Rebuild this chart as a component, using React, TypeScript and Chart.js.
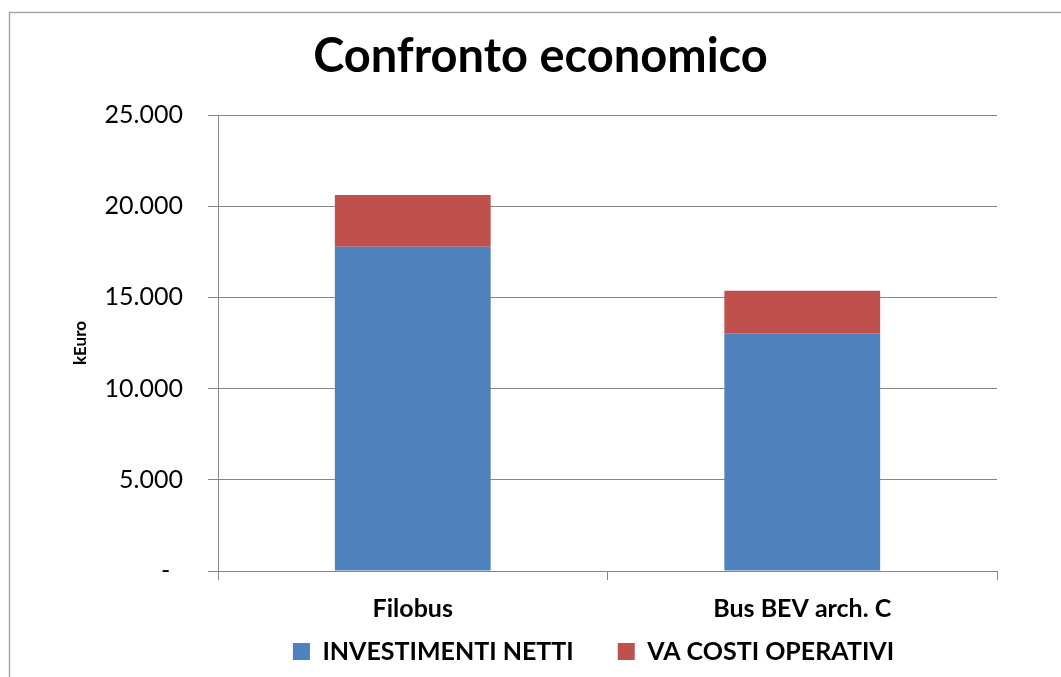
import React, { useEffect, useRef } from "react";
import { Chart, registerables } from "chart.js";

Chart.register(...registerables);

const categories = ["Filobus", "Bus BEV arch. C"];
const investimentiNetti = [17780, 13030];
const vaCostiOperativi = [2835, 2335];
const seriesNames = ["INVESTIMENTI NETTI", "VA COSTI OPERATIVI"];
const yTickLabels = ["-  ", "5.000", "10.000", "15.000", "20.000", "25.000"];
const chartTitle = "Confronto economico";
const yAxisTitle = "kEuro";

const FONT = "Lato, 'Open Sans', sans-serif";

const nudgePlugin = {
  id: "nudge",
  afterLayout(chart: any) {
    const t = chart.titleBlock;
    if (t) {
      const d = 540.5 - (t.left + t.right) / 2;
      t.left += d;
      t.right += d;
    }
    const l = chart.legend;
    if (l) {
      const d = 593.5 - (l.left + l.right) / 2;
      l.left += d;
      l.right += d;
    }
    const x = chart.scales.x;
    if (x) {
      x.bottom = chart.height;
    }
  },
};

const borderPlugin = {
  id: "frameBorder",
  beforeDraw(chart: any) {
    const ctx = chart.ctx;
    ctx.save();
    ctx.strokeStyle = "#a6a6a6";
    ctx.lineWidth = 1.5;
    ctx.beginPath();
    ctx.moveTo(9.5, chart.height);
    ctx.lineTo(9.5, 12.5);
    ctx.lineTo(chart.width, 12.5);
    ctx.stroke();
    ctx.restore();
  },
};

export default function App() {
  const ref = useRef<HTMLCanvasElement | null>(null);

  useEffect(() => {
    if (!ref.current) return;
    const chart = new Chart(ref.current, {
      type: "bar",
      data: {
        labels: categories,
        datasets: [
          {
            label: seriesNames[0],
            data: investimentiNetti,
            backgroundColor: "#4F81BD",
            barPercentage: 0.4,
            categoryPercentage: 1.0,
          },
          {
            label: seriesNames[1],
            data: vaCostiOperativi,
            backgroundColor: "#C0504D",
            barPercentage: 0.4,
            categoryPercentage: 1.0,
          },
        ],
      },
      options: {
        animation: false,
        responsive: true,
        maintainAspectRatio: false,
        layout: { padding: { left: 64, right: 64, top: 0, bottom: 3 } },
        plugins: {
          title: {
            display: true,
            text: chartTitle,
            color: "#000000",
            font: { family: FONT, size: 47, weight: "bold" },
            padding: { top: 28.5, bottom: 30.1 },
          },
          legend: {
            display: true,
            position: "bottom",
            labels: {
              color: "#000000",
              font: { family: FONT, size: 25, weight: "bold" },
              boxWidth: 17,
              boxHeight: 17,
              padding: 44,
            },
          },
          tooltip: { enabled: false },
        },
        scales: {
          x: {
            stacked: true,
            grid: {
              drawOnChartArea: false,
              drawTicks: true,
              tickLength: 9,
              color: "#868686",
            },
            border: { display: true, color: "#868686" },
            ticks: {
              color: "#000000",
              font: { family: FONT, size: 25, weight: "bold" },
              padding: 14,
              autoSkip: false,
              maxRotation: 0,
            },
            afterFit: (scale: any) => {
              // legend height = 25 (item) + 44 (padding) + 10
              scale.height = 677 - 3 - 79 - 571;
            },
          },
          y: {
            stacked: true,
            min: 0,
            max: 25000,
            grid: {
              color: "#868686",
              tickLength: 10,
            },
            border: { display: true, color: "#868686" },
            ticks: {
              stepSize: 5000,
              color: "#000000",
              font: { family: FONT, size: 25 },
              padding: 25,
              callback: (v: any) => yTickLabels[Math.round(Number(v) / 5000)] ?? "",
            },
            title: {
              display: true,
              text: yAxisTitle,
              color: "#000000",
              font: { family: FONT, size: 17, weight: "bold" },
              padding: { top: 6, bottom: 0 },
            },
            afterFit: (scale: any) => {
              scale.width = 154;
            },
          },
        },
      },
      plugins: [nudgePlugin, borderPlugin],
    });
    return () => chart.destroy();
  }, []);

  return (
    <div style={{ position: "absolute", left: 0, top: 0, width: 1061, height: 677, background: "#ffffff" }}>
      <canvas ref={ref} />
    </div>
  );
}
